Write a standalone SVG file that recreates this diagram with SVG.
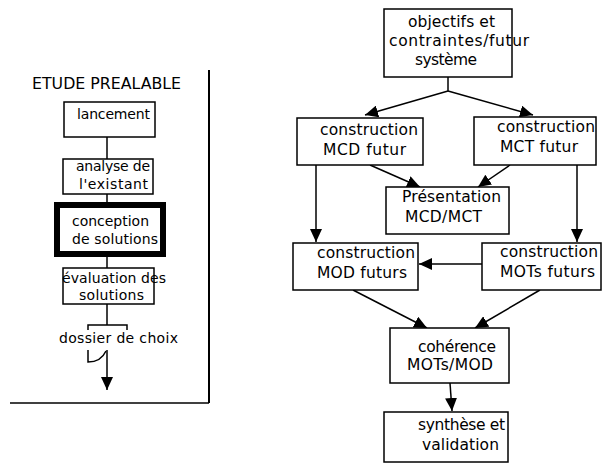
<svg xmlns="http://www.w3.org/2000/svg" width="603" height="464" viewBox="0 0 603 464">
<defs>
<marker id="arr" markerUnits="userSpaceOnUse" markerWidth="14" markerHeight="12" refX="13" refY="6" orient="auto">
<path d="M0,0 L13,6 L0,12 Z" fill="#000"/>
</marker>
<style>
.box{fill:#fff;stroke:#000;stroke-width:1.5}
.thick{fill:#fff;stroke:#000;stroke-width:6}
.ln{fill:none;stroke:#000;stroke-width:1.5}
.ar{fill:none;stroke:#000;stroke-width:1.5;marker-end:url(#arr)}
text{font-family:"DejaVu Sans","Liberation Sans",sans-serif;fill:#000}
.s{font-size:14px}
.r{font-size:15.5px}
</style>
</defs>
<rect width="603" height="464" fill="#fff"/>

<g id="left-panel">
<text x="32" y="89" font-size="15" textLength="149" lengthAdjust="spacingAndGlyphs">ETUDE PREALABLE</text>
<line x1="209" y1="70" x2="209" y2="403" stroke="#000" stroke-width="2"/>
<line x1="10" y1="403" x2="209" y2="403" stroke="#000" stroke-width="1.5"/>
</g>

<g id="connectors">
<line class="ln" x1="107" y1="137" x2="107" y2="159"/>
<line class="ln" x1="107" y1="194" x2="107" y2="202"/>
<line class="ln" x1="107" y1="257" x2="107" y2="268"/>
<line class="ln" x1="107" y1="304" x2="107" y2="325"/>
<path class="ln" d="M88,330 V325 H127 V330"/>
<path class="ln" d="M88,350 V362 Q101,362 106,351"/>
<line class="ar" x1="107" y1="350" x2="107" y2="390"/>

<line class="ln" x1="448" y1="77" x2="448" y2="91"/>
<line class="ar" x1="448" y1="91" x2="365" y2="115"/>
<line class="ar" x1="448" y1="91" x2="533" y2="115"/>
<line class="ar" x1="370" y1="165" x2="420" y2="187"/>
<line class="ar" x1="510" y1="165" x2="478" y2="187"/>
<line class="ar" x1="316" y1="165" x2="316" y2="242"/>
<line class="ar" x1="577" y1="165" x2="577" y2="242"/>
<line class="ar" x1="482" y1="264" x2="419" y2="264"/>
<line class="ar" x1="353" y1="290" x2="427" y2="328"/>
<line class="ar" x1="540" y1="290" x2="475" y2="328"/>
<line class="ar" x1="450" y1="383" x2="452" y2="411"/>
</g>

<g id="lancement">
<rect class="box" x="64" y="102" width="91" height="35"/>
<text class="s" x="77" y="119" textLength="73">lancement</text>
</g>
<g id="analyse">
<rect class="box" x="63" y="159" width="90" height="35"/>
<text class="s" x="76" y="171" textLength="74">analyse de</text>
<text class="s" x="79" y="189" textLength="69">l'existant</text>
</g>
<g id="conception">
<rect class="thick" x="57" y="205" width="106" height="49"/>
<text class="s" x="72" y="226" textLength="77">conception</text>
<text class="s" x="72" y="244" textLength="86">de solutions</text>
</g>
<g id="evaluation">
<rect class="box" x="63" y="268" width="91" height="36"/>
<text class="s" x="62" y="283" textLength="104">évaluation des</text>
<text class="s" x="79" y="300" textLength="65">solutions</text>
</g>
<g id="dossier">
<text class="s" x="59" y="343" textLength="119">dossier de choix</text>
</g>

<g id="objectifs">
<rect class="box" x="384" y="9" width="128" height="68"/>
<text class="r" x="408" y="27" textLength="87">objectifs et</text>
<text class="r" x="389" y="46" textLength="140">contraintes/futur</text>
<text class="r" x="415" y="65" textLength="62">système</text>
</g>
<g id="mcd">
<rect class="box" x="297" y="118" width="126" height="47"/>
<text class="r" x="320" y="135" textLength="98">construction</text>
<text class="r" x="323" y="155" textLength="83">MCD  futur</text>
</g>
<g id="mct">
<rect class="box" x="474" y="117" width="122" height="48"/>
<text class="r" x="497" y="132" textLength="98">construction</text>
<text class="r" x="500" y="152" textLength="78">MCT  futur</text>
</g>
<g id="presentation">
<rect class="box" x="386" y="187" width="123" height="47"/>
<text class="r" x="402" y="202" textLength="99">Présentation</text>
<text class="r" x="405" y="222" textLength="77">MCD/MCT</text>
</g>
<g id="mod">
<rect class="box" x="293" y="243" width="125" height="47"/>
<text class="r" x="317" y="258" textLength="98">construction</text>
<text class="r" x="317" y="278" textLength="90">MOD  futurs</text>
</g>
<g id="mots">
<rect class="box" x="482" y="243" width="119" height="47"/>
<text class="r" x="500" y="257" textLength="98">construction</text>
<text class="r" x="500" y="277" textLength="95">MOTs  futurs</text>
</g>
<g id="coherence">
<rect class="box" x="390" y="328" width="119" height="55"/>
<text class="r" x="418" y="352" textLength="78">cohérence</text>
<text class="r" x="407" y="370" textLength="86">MOTs/MOD</text>
</g>
<g id="synthese">
<rect class="box" x="384" y="412" width="124" height="50"/>
<text class="r" x="418" y="430" textLength="87">synthèse et</text>
<text class="r" x="422" y="450" textLength="77">validation</text>
</g>
</svg>
